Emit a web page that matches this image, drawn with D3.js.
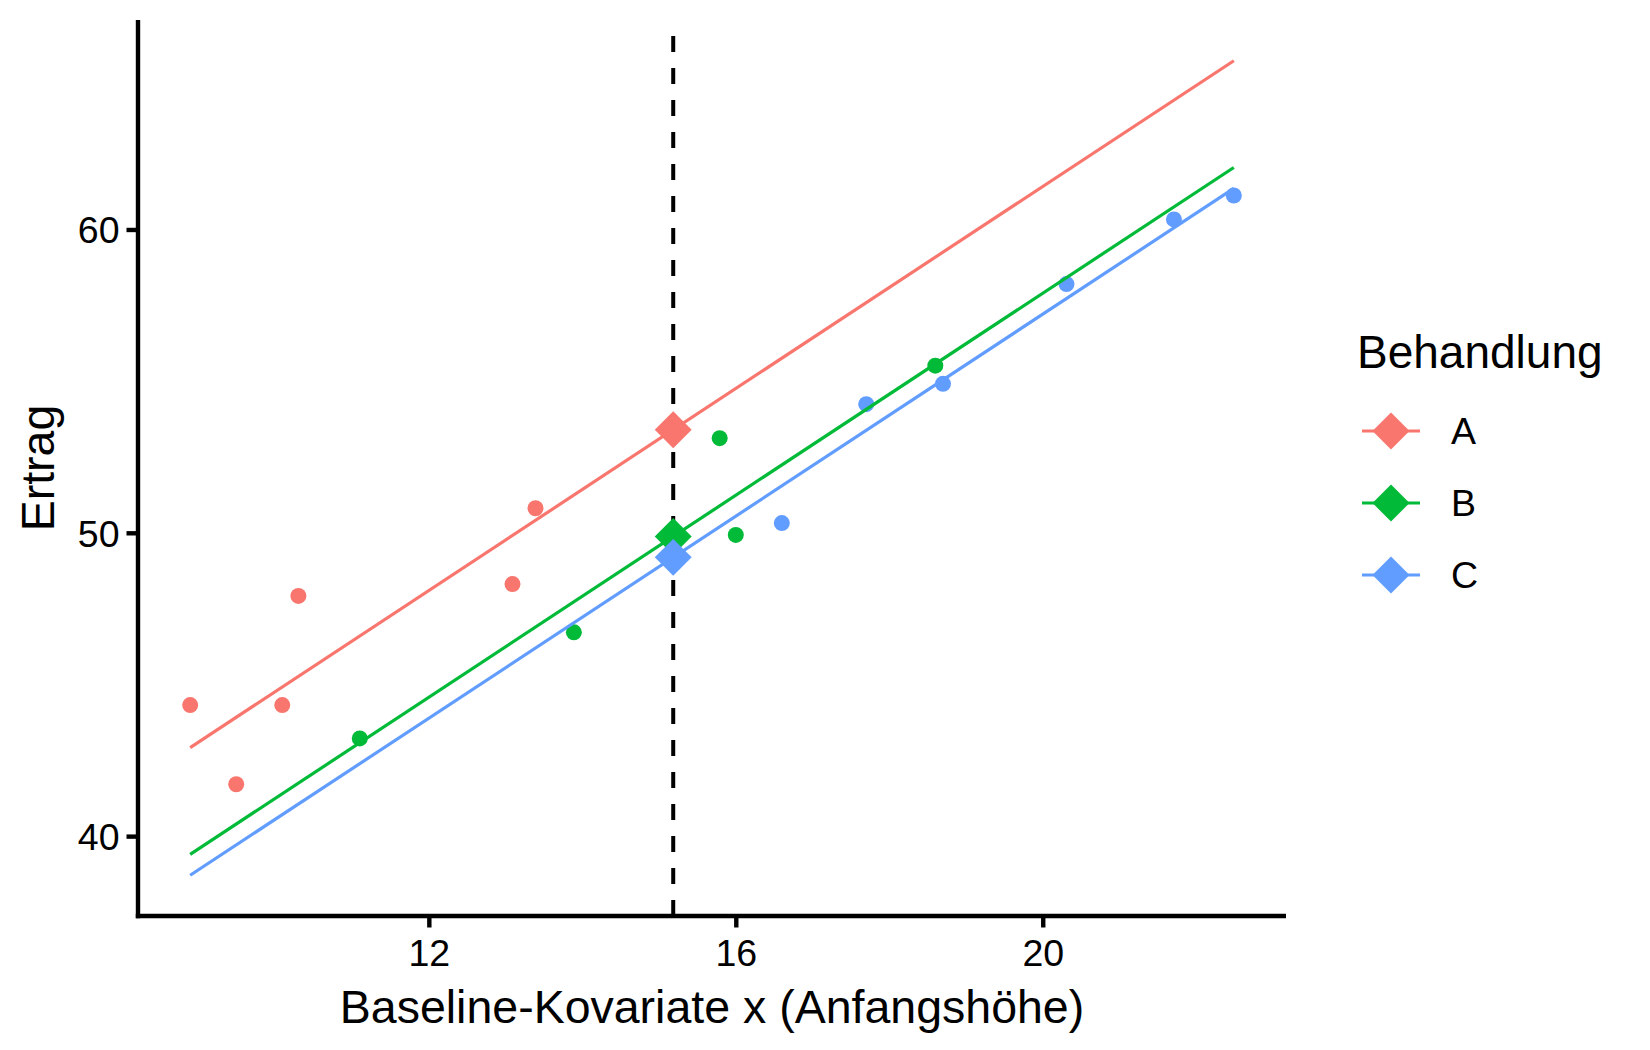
<!DOCTYPE html>
<html>
<head>
<meta charset="utf-8">
<script src="https://d3js.org/d3.v7.min.js"></script>
<style>
  body { margin: 0; background: #fff; }
  text { font-family: Arial, "Liberation Sans", sans-serif; }
</style>
</head>
<body>
<div id="chart"></div>
<script>
// Treatment groups and colours (ggplot default hue)
const groups = ["A", "B", "C"];
const colors = ["#F8766D", "#00BA38", "#619CFF"];

// Observed points per group (x = baseline covariate, y = yield)
const xA = [8.89, 9.49, 10.09, 10.30, 13.09, 13.39];
const yA = [44.32, 41.71, 44.32, 47.92, 48.31, 50.81];
const xB = [11.10, 13.89, 15.79, 16.00, 18.60];
const yB = [43.22, 46.72, 53.12, 49.93, 55.51];
const xC = [16.60, 17.70, 18.70, 20.31, 21.71, 22.49];
const yC = [50.32, 54.24, 54.91, 58.20, 60.33, 61.12];

// Adjusted means at the covariate mean, common slope of the parallel lines
const adjMeans = [53.40, 49.88, 49.19];
const slope = 1.665;

const xTicks = [12, 16, 20];
const yTicks = [40, 50, 60];

const W = 1650, H = 1050;
const panel = { left: 138, right: 1286, top: 20, bottom: 916 };

const points = [];
[[xA, yA], [xB, yB], [xC, yC]].forEach(([xs, ys], g) => {
  xs.forEach((x, i) => points.push({ g, x, y: ys[i] }));
});

const allX = points.map((d) => d.x);
const meanX = d3.mean(allX);
const [xMin, xMax] = d3.extent(allX);

const lines = groups.map((name, g) => ({
  g,
  values: [xMin, xMax].map((x) => ({ x, y: adjMeans[g] + slope * (x - meanX) })),
}));

// ggplot-like 5% expansion
function expand([a, b]) {
  const d = (b - a) * 0.05;
  return [a - d, b + d];
}
const yAll = points.map((d) => d.y).concat(lines.flatMap((l) => l.values.map((v) => v.y)));

const x = d3.scaleLinear().domain(expand([xMin, xMax])).range([panel.left, panel.right]);
const y = d3.scaleLinear().domain(expand(d3.extent(yAll))).range([panel.bottom, panel.top]);

const svg = d3.select("#chart").append("svg").attr("width", W).attr("height", H);

// Points
svg.append("g")
  .selectAll("circle")
  .data(points)
  .join("circle")
  .attr("cx", (d) => x(d.x))
  .attr("cy", (d) => y(d.y))
  .attr("r", 8)
  .attr("fill", (d) => colors[d.g]);

// Fitted parallel lines
const line = d3.line().x((d) => x(d.x)).y((d) => y(d.y));
svg.append("g")
  .selectAll("path")
  .data(lines)
  .join("path")
  .attr("d", (d) => line(d.values))
  .attr("fill", "none")
  .attr("stroke", (d) => colors[d.g])
  .attr("stroke-width", 3.2);

// Covariate mean (drawn bottom to top like grid does)
svg.append("line")
  .attr("x1", x(meanX)).attr("x2", x(meanX))
  .attr("y1", panel.bottom).attr("y2", panel.top)
  .attr("stroke", "#000")
  .attr("stroke-width", 4)
  .attr("stroke-dasharray", "16,16");

// Adjusted means as diamonds
const diamond = d3.symbol().type(d3.symbolSquare).size(684);
svg.append("g")
  .selectAll("path")
  .data(adjMeans)
  .join("path")
  .attr("d", diamond)
  .attr("transform", (d) => `translate(${x(meanX)},${y(d)}) rotate(45)`)
  .attr("fill", (d, i) => colors[i]);

// Axes
const xAxis = svg.append("g")
  .attr("transform", `translate(0,${panel.bottom})`)
  .call(d3.axisBottom(x).tickValues(xTicks).tickSize(11.5).tickPadding(12).tickSizeOuter(0));
const yAxis = svg.append("g")
  .attr("transform", `translate(${panel.left},0)`)
  .call(d3.axisLeft(y).tickValues(yTicks).tickSize(11.5).tickPadding(7).tickSizeOuter(0));

[xAxis, yAxis].forEach((ax) => {
  ax.select(".domain").attr("stroke", "#000").attr("stroke-width", 4.4);
  ax.selectAll(".tick line").attr("stroke", "#000").attr("stroke-width", 4.4);
  ax.selectAll(".tick text").attr("fill", "#000").style("font-size", "37.5px");
});
// extend axis lines to cover the corner
xAxis.select(".domain").attr("d", `M${panel.left - 2.2},0H${panel.right}`);
yAxis.select(".domain").attr("d", `M0,${panel.top}V${panel.bottom + 2.2}`);
yAxis.selectAll(".tick text").attr("dy", "0.36em");

// Axis titles
svg.append("text")
  .attr("x", (panel.left + panel.right) / 2)
  .attr("y", 1023)
  .attr("text-anchor", "middle")
  .style("font-size", "46.5px")
  .text("Baseline-Kovariate x (Anfangshöhe)");

svg.append("text")
  .attr("transform", `translate(54,${(panel.top + panel.bottom) / 2}) rotate(-90)`)
  .attr("text-anchor", "middle")
  .style("font-size", "46.5px")
  .text("Ertrag");

// Legend
const legend = svg.append("g").attr("transform", "translate(1355,0)");
legend.append("text")
  .attr("x", 2)
  .attr("y", 368)
  .style("font-size", "46px")
  .text("Behandlung");

const keys = legend.selectAll("g.key")
  .data(groups)
  .join("g")
  .attr("class", "key")
  .attr("transform", (d, i) => `translate(0,${431 + i * 72})`);

keys.append("line")
  .attr("x1", 7).attr("x2", 65)
  .attr("stroke", (d, i) => colors[i])
  .attr("stroke-width", 3.2);
keys.append("path")
  .attr("d", diamond)
  .attr("transform", "translate(36,0) rotate(45)")
  .attr("fill", (d, i) => colors[i]);
keys.append("text")
  .attr("x", 96)
  .attr("y", 13)
  .style("font-size", "37.5px")
  .text((d) => d);
</script>
</body>
</html>
